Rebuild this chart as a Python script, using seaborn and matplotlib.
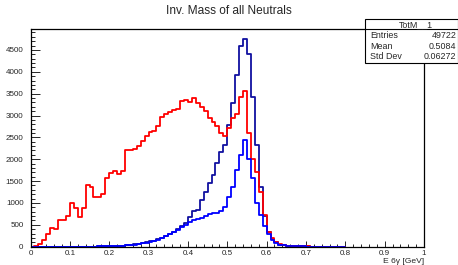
import numpy as np
import pandas as pd
import seaborn as sns
import matplotlib.pyplot as plt
from matplotlib.ticker import MultipleLocator, FuncFormatter
from matplotlib.patches import Rectangle

# histogram bins: 80 bins of 0.01 GeV between 0 and 0.8
bin_lo = [round(0.01 * i, 2) for i in range(80)]

# red curve
counts_red = [0, 20, 60, 150, 300, 420, 400, 620, 600, 710,
              1000, 880, 680, 880, 1420, 1360, 1130, 1130, 1200, 1580,
              1680, 1730, 1660, 1740, 2220, 2220, 2230, 2300, 2420, 2530,
              2620, 2640, 2760, 2960, 3040, 3090, 3130, 3160, 3340, 3360,
              3300, 3395, 3280, 3190, 3100, 2950, 2850, 2760, 2600, 2540,
              2720, 2940, 3030, 3430, 3560, 2600, 2000, 1700, 1260, 730,
              330, 200, 110, 60, 35, 25, 15, 10, 8, 6,
              5, 4, 3, 3, 2, 2, 1, 1, 1, 0]

# dark blue curve (TotM__1)
counts_navy = [0, 0, 0, 0, 0, 0, 0, 0, 0, 0,
               0, 1, 1, 2, 2, 3, 4, 5, 6, 8,
               12, 15, 20, 25, 32, 42, 52, 66, 80, 100,
               120, 140, 170, 205, 245, 290, 340, 400, 480, 550,
               690, 820, 850, 1060, 1250, 1450, 1650, 1910, 2175, 2330,
               2790, 3280, 3925, 4580, 4750, 4410, 3430, 2330, 1370, 700,
               345, 165, 100, 50, 30, 20, 14, 10, 8, 6,
               5, 4, 3, 3, 2, 2, 1, 1, 1, 0]

# bright blue curve
counts_blue = [0, 0, 0, 0, 0, 0, 0, 0, 0, 0,
               0, 1, 1, 2, 2, 3, 4, 5, 6, 8,
               11, 14, 19, 24, 30, 40, 50, 63, 78, 96,
               115, 135, 160, 195, 235, 280, 325, 380, 440, 500,
               560, 610, 630, 665, 710, 740, 760, 780, 810, 900,
               1140, 1370, 1750, 2100, 2450, 2000, 1560, 1000, 720, 470,
               280, 150, 80, 45, 28, 18, 12, 9, 7, 5,
               4, 3, 3, 2, 2, 1, 1, 1, 1, 0]

stats_name = 'TotM__1'
stats_rows = [('Entries', '49722'), ('Mean', '0.5084'), ('Std Dev', '0.06272')]

sns.set_style('white')
plt.rcParams['font.family'] = ['Liberation Sans', 'DejaVu Sans']

W, H = 458, 265
fig = plt.figure(figsize=(W / 100, H / 100), dpi=100)
ax = fig.add_axes([30.5 / W, 1 - 246.7 / H, (424 - 30.5) / W, (246.7 - 28.5) / H])

centers = [b + 0.005 for b in bin_lo]
series = [('navy', counts_navy, '#1010a0'),
          ('red', counts_red, '#ff0000'),
          ('blue', counts_blue, '#0000ff')]
for name, cnt, col in series:
    df = pd.DataFrame({'mass': centers, 'n': cnt})
    sns.histplot(data=df, x='mass', weights='n', binwidth=0.01, binrange=(0, 0.8),
                 element='step', fill=False, color=col, linewidth=1.3, ax=ax)

ax.set_xlim(0, 1)
ax.set_ylim(0, 4990)
ax.set_xlabel('')
ax.set_ylabel('')
for s in ax.spines.values():
    s.set_color('black')
    s.set_linewidth(0.9)

ax.xaxis.set_major_locator(MultipleLocator(0.1))
ax.xaxis.set_minor_locator(MultipleLocator(0.02))
ax.yaxis.set_major_locator(MultipleLocator(500))
ax.yaxis.set_minor_locator(MultipleLocator(100))
ax.xaxis.set_major_formatter(FuncFormatter(lambda v, p: f'{v:g}'))
ax.yaxis.set_major_formatter(FuncFormatter(lambda v, p: f'{int(round(v))}'))
ax.tick_params(axis='x', which='major', direction='in', length=4.5, width=0.7,
               labelsize=5.8, pad=2.5, bottom=True, top=False)
ax.tick_params(axis='x', which='minor', direction='in', length=2.2, width=0.7,
               bottom=True, top=False)
ax.tick_params(axis='y', which='major', direction='in', length=6.5, width=0.7,
               labelsize=5.8, pad=5, left=True, right=False)
ax.tick_params(axis='y', which='minor', direction='in', length=3.2, width=0.7,
               left=True, right=False)

fig.text(0.5, 1 - 11 / H, 'Inv. Mass of all Neutrals', ha='center', va='center', fontsize=8.6)
fig.text(424 / W, 1 - 261.5 / H, 'E 6γ [GeV]', ha='right', va='center', fontsize=6.1)

# stats box
bx0, bx1, by0, by1 = 365, 458, 19, 62.7
fig.patches.append(Rectangle(((bx0 + 1.5) / W, 1 - (by1 + 1.5) / H), (bx1 - bx0) / W, (by1 - by0) / H,
                             transform=fig.transFigure, facecolor='black', edgecolor='none', zorder=5))
fig.patches.append(Rectangle((bx0 / W, 1 - by1 / H), (bx1 - bx0) / W, (by1 - by0) / H,
                             transform=fig.transFigure, facecolor='white', edgecolor='black',
                             linewidth=0.8, zorder=6))
fig.add_artist(plt.Line2D([bx0 / W, bx1 / W], [1 - 29 / H, 1 - 29 / H], transform=fig.transFigure,
                          color='black', linewidth=0.8, zorder=7))
fig.text(415.7 / W, 1 - 24.3 / H, stats_name, ha='center', va='center', fontsize=6.4, zorder=8)
for i, (lab, val) in enumerate(stats_rows):
    yy = 1 - (35.7 + 10.5 * i) / H
    fig.text(370 / W, yy, lab, ha='left', va='center', fontsize=6.4, zorder=8)
    fig.text(456.5 / W, yy, val, ha='right', va='center', fontsize=6.4, zorder=8)

fig.savefig('out.png', dpi=100)
